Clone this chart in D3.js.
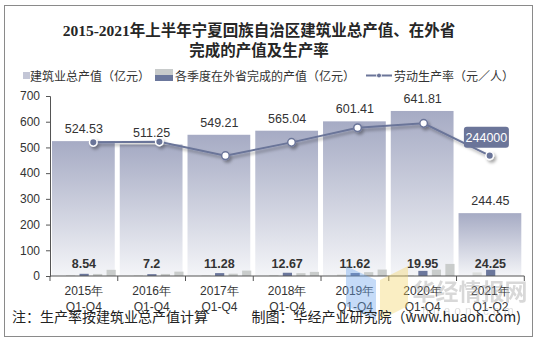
<!DOCTYPE html>
<html><head><meta charset="utf-8">
<script src="https://cdn.jsdelivr.net/npm/d3@7/dist/d3.min.js"></script>
<style>
body{margin:0;background:#fff;}
svg{display:block;}
</style></head>
<body><svg id="c" width="538" height="344"></svg>
<script>
const years = ["2015年","2016年","2017年","2018年","2019年","2020年","2021年"];
const periods = ["Q1-Q4","Q1-Q4","Q1-Q4","Q1-Q4","Q1-Q4","Q1-Q4","Q1-Q2"];
const totalOutput = [524.53,511.25,549.21,565.04,601.41,641.81,244.45];
const q1Outside = [4,3,3,4,6,3,14];
const q2Outside = [8.54,7.2,11.28,12.67,11.62,19.95,24.25];
const q3Outside = [8,8,9,11,15,25,null];
const q4Outside = [24,17,21,16,25,47,null];
const productivity = [271000,272000,244000,271000,300500,309500,244000];
const markerFilled = [true,true,false,false,false,false,true];
const yTicks = [0,100,200,300,400,500,600,700];

const svg = d3.select("#c");
const CJK = "'Noto Sans CJK SC','Noto Sans',sans-serif";
const NUM = "'Liberation Sans',Arial,sans-serif";

const defs = svg.append("defs");
const grad = defs.append("linearGradient").attr("id","bg").attr("x1",0).attr("y1",0).attr("x2",0).attr("y2",1);
grad.append("stop").attr("offset","0%").attr("stop-color","#a6abc4");
grad.append("stop").attr("offset","100%").attr("stop-color","#f4f5f8");
const sh = defs.append("filter").attr("id","sh").attr("x","-50%").attr("y","-50%").attr("width","200%").attr("height","200%");
sh.append("feDropShadow").attr("dx",2).attr("dy",2.5).attr("stdDeviation",1.5).attr("flood-color","#000").attr("flood-opacity",0.35);

// frame
svg.append("rect").attr("x",4.5).attr("y",5.5).attr("width",528).attr("height",331)
  .attr("fill","#fff").attr("stroke","#8a8a8a").attr("stroke-width",1);

// title
const title = svg.append("text").attr("text-anchor","middle").attr("fill","#262626")
  .attr("font-family","'Liberation Serif','Noto Sans CJK SC',serif").attr("font-weight","bold").attr("font-size",15.5);
title.append("tspan").attr("x",259).attr("y",36).text("2015-2021年上半年宁夏回族自治区建筑业总产值、在外省");
title.append("tspan").attr("x",259).attr("y",56).text("完成的产值及生产率");

// legend
const lg = svg.append("g").attr("font-family",CJK).attr("font-size",12).attr("fill","#333");
lg.append("rect").attr("x",23).attr("y",72).attr("width",7).attr("height",7).attr("fill","#c3c6d6");
lg.append("text").attr("x",30).attr("y",81).text("建筑业总产值（亿元）");
lg.append("rect").attr("x",155).attr("y",69).attr("width",18).attr("height",6).attr("fill","#c8cbcb");
lg.append("rect").attr("x",155).attr("y",75).attr("width",18).attr("height",6).attr("fill","#6b779c");
lg.append("text").attr("x",175).attr("y",81).text("各季度在外省完成的产值（亿元）");
lg.append("line").attr("x1",366).attr("x2",392).attr("y1",75.5).attr("y2",75.5).attr("stroke","#6b7599").attr("stroke-width",2);
lg.append("circle").attr("cx",379).attr("cy",75.5).attr("r",2.5).attr("fill","#6b7599").attr("stroke","#fff").attr("stroke-width",1);
lg.append("text").attr("x",394).attr("y",81).text("劳动生产率（元／人）");

// scales
const x = d3.scaleBand().domain(years).range([50,524.3]).paddingInner(0).paddingOuter(0);
const xLine = d3.scalePoint().domain(years).range([93.3,489.7]);
const y = d3.scaleLinear().domain([0,700]).range([276,96]);
const y2 = d3.scaleLinear().domain([0,365000]).range([276,96]);
const slot = d3.scaleBand().domain([0,1,2,3,4]).range([2.5, x.bandwidth()-2]).paddingInner(0.32).paddingOuter(0);

// big bars
svg.append("g").selectAll("rect").data(totalOutput).join("rect")
  .attr("x",(d,i)=>x(years[i])+2).attr("width",x.bandwidth()-5)
  .attr("y",d=>y(d)).attr("height",d=>y(0)-y(d)).attr("fill","url(#bg)");

// small bars
const quarterSeries = [
  {vals:q1Outside, slot:1, color:"#dcdedd"},
  {vals:q2Outside, slot:2, color:"#6b779c"},
  {vals:q3Outside, slot:3, color:"#c9cccb"},
  {vals:q4Outside, slot:4, color:"#c9cccb"}
];
quarterSeries.forEach(s=>{
  svg.append("g").selectAll("rect").data(s.vals.map((v,i)=>({v,i})).filter(d=>d.v!=null)).join("rect")
    .attr("x",d=>x(years[d.i])+slot(s.slot)).attr("width",slot.bandwidth())
    .attr("y",d=>y(d.v)).attr("height",d=>y(0)-y(d.v)).attr("fill",s.color);
});

// axes
const yAxis = svg.append("g").attr("transform","translate(50,0)")
  .call(d3.axisLeft(y).tickValues(yTicks).tickSize(4).tickPadding(6));
yAxis.select(".domain").attr("stroke","#555");
yAxis.selectAll(".tick line").attr("stroke","#555");
yAxis.selectAll("text").attr("font-family",NUM).attr("font-size",12).attr("fill","#333");

const xAxis = svg.append("g").attr("transform","translate(0,276)");
xAxis.append("line").attr("x1",50).attr("x2",524.3).attr("stroke","#555");
xAxis.selectAll("line.t").data(years.concat(["end"])).join("line").attr("class","t")
  .attr("x1",(d,i)=> i<years.length ? x(d) : x(years[years.length-1])+x.bandwidth())
  .attr("x2",(d,i)=> i<years.length ? x(d) : x(years[years.length-1])+x.bandwidth())
  .attr("y1",0).attr("y2",5).attr("stroke","#555");
const xl = xAxis.selectAll("text.c").data(years).join("text").attr("class","c")
  .attr("text-anchor","middle").attr("font-family",NUM).attr("font-size",12).attr("fill","#333");
xl.append("tspan").attr("x",d=>x(d)+x.bandwidth()/2).attr("y",19).text(d=>d);
xl.append("tspan").attr("x",d=>x(d)+x.bandwidth()/2).attr("y",35).text((d,i)=>periods[i]);

// bar labels
svg.append("g").selectAll("text").data(totalOutput).join("text")
  .attr("x",(d,i)=>x(years[i])+x.bandwidth()/2).attr("y",d=>y(d)-8)
  .attr("text-anchor","middle").attr("font-family",NUM).attr("font-size",12.5).attr("fill","#333")
  .text(d=>d3.format(".2f")(d));
svg.append("g").selectAll("text").data(q2Outside).join("text")
  .attr("x",(d,i)=>x(years[i])+x.bandwidth()/2).attr("y",y(0)-8)
  .attr("text-anchor","middle").attr("font-family",NUM).attr("font-weight","bold").attr("font-size",12.5).attr("fill","#333")
  .text(d=>d);

// line
const cx = (d,i)=>xLine(years[i]);
const lineGen = d3.line().x((d,i)=>cx(d,i)).y(d=>y2(d));
const lineG = svg.append("g").attr("filter","url(#sh)");
lineG.append("path").datum(productivity).attr("d",lineGen).attr("fill","none").attr("stroke","#6b7599").attr("stroke-width",2);
lineG.selectAll("circle").data(productivity).join("circle")
  .attr("cx",cx).attr("cy",d=>y2(d)).attr("r",3.8)
  .attr("fill",(d,i)=>markerFilled[i]?"#6b7599":"#fff")
  .attr("stroke",(d,i)=>markerFilled[i]?"#fff":"#6b7599").attr("stroke-width",1.5);

// callout for last point
const li = productivity.length-1;
const lx = cx(productivity[li],li)-3.3, ly = y2(productivity[li])-18.5;
svg.append("rect").attr("x",lx-22.5).attr("y",ly-10.5).attr("width",45).attr("height",21).attr("rx",3)
  .attr("fill","#6b7599");
svg.append("text").attr("x",lx).attr("y",ly+4.5).attr("text-anchor","middle").attr("font-family",NUM)
  .attr("font-size",12.5).attr("fill","#fff").text(productivity[li]);

// watermark
const wm = svg.append("g").attr("opacity",0.4);
wm.append("path").attr("d","M346,266 L376,280 L376,320 L346,306 Z").attr("fill","#6fa8f0");
wm.append("path").attr("d","M380,280 L408,266 L408,306 L380,320 Z").attr("fill","#f5d66a");
wm.append("text").attr("x",470).attr("y",300).attr("text-anchor","middle").attr("font-family",CJK)
  .attr("font-weight","bold").attr("font-size",23).attr("fill","#a0a0a0").text("华经情报网");
wm.append("text").attr("x",470).attr("y",315).attr("text-anchor","middle").attr("font-family",NUM)
  .attr("font-size",12).attr("letter-spacing",4).attr("fill","#b0b0b0").text("huaon.com");

// footer
svg.append("text").attr("x",12).attr("y",322).attr("font-family",CJK).attr("font-size",14).attr("fill","#222")
  .text("注：生产率按建筑业总产值计算");
svg.append("text").attr("x",521).attr("y",322).attr("text-anchor","end").attr("font-family",CJK).attr("font-size",14).attr("fill","#222")
  .text("制图：华经产业研究院（www.huaon.com)");
</script></body></html>
